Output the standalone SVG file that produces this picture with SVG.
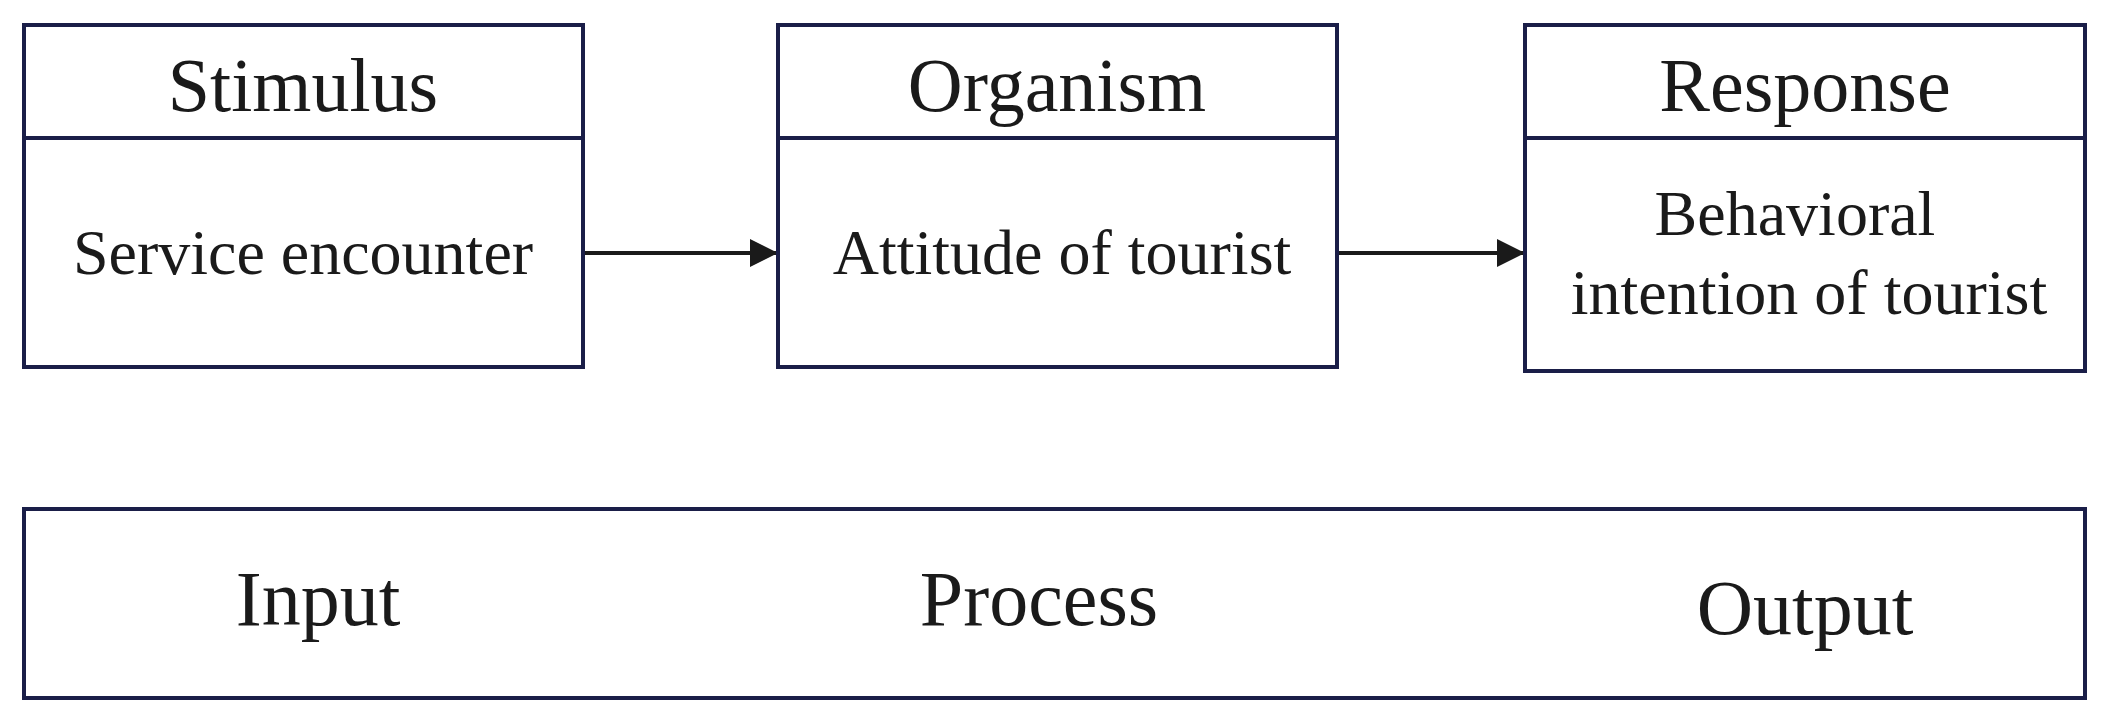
<svg xmlns="http://www.w3.org/2000/svg" width="2111" height="723" viewBox="0 0 2111 723">
<style>
.b{fill:#fff;stroke:#1a1e48;stroke-width:4}
.t{font-family:"Liberation Serif",serif;fill:#1a1a1a;text-anchor:middle}
.h{font-size:76px}.s{font-size:64px}.l{font-size:78px}
.c{stroke:#1a1a1a;stroke-width:4;fill:none}
</style>
<defs>
<marker id="m" viewBox="0 0 10 10" refX="10" refY="5" markerWidth="28" markerHeight="28" markerUnits="userSpaceOnUse" orient="auto"><path d="M0,0L10,5L0,10z" fill="#1a1a1a"/></marker></defs>
<g id="connectors">
<line class="c" x1="583" y1="253" x2="778" y2="253" marker-end="url(#m)"/>
<line class="c" x1="1337" y1="253" x2="1525" y2="253" marker-end="url(#m)"/>
</g>
<g id="stimulus"><rect class="b" x="24" y="25" width="559" height="342"/><line class="b" x1="24" y1="138" x2="583" y2="138"/>
<text class="t h" x="303" y="111">Stimulus</text><text class="t s" x="303" y="274">Service encounter</text></g>
<g id="organism"><rect class="b" x="778" y="25" width="559" height="342"/><line class="b" x1="778" y1="138" x2="1337" y2="138"/>
<text class="t h" x="1057" y="111">Organism</text><text class="t s" x="1062" y="274">Attitude of tourist</text></g>
<g id="response"><rect class="b" x="1525" y="25" width="560" height="346"/><line class="b" x1="1525" y1="138" x2="2085" y2="138"/>
<text class="t h" x="1805" y="111">Response</text><text class="t s" x="1795" y="235">Behavioral</text><text class="t s" x="1809" y="314">intention of tourist</text></g>
<g id="ipo"><rect class="b" x="24" y="509" width="2061" height="189"/>
<text class="t l" x="318" y="625">Input</text><text class="t l" x="1039" y="625">Process</text><text class="t l" x="1805" y="634">Output</text></g>
</svg>
